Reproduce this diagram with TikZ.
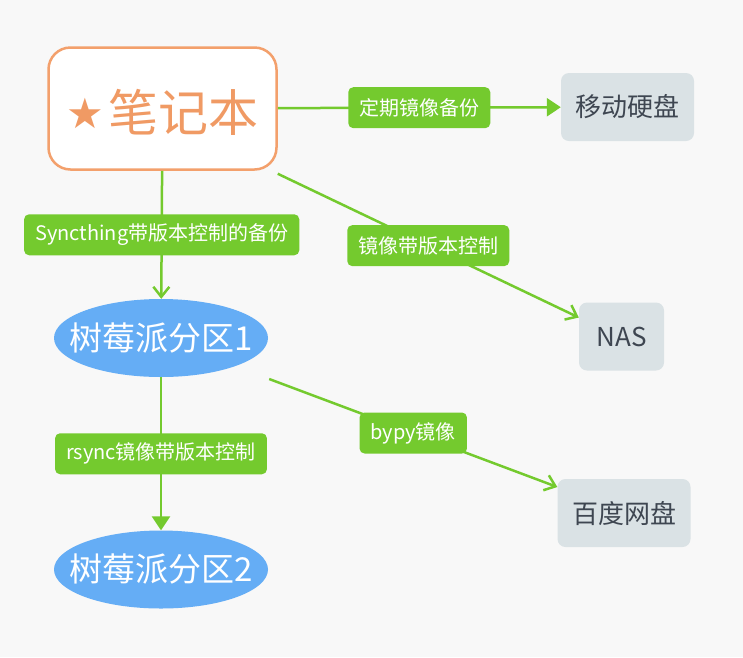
\documentclass[tikz,border=0pt]{standalone}
\usepackage{fontspec}
\setmainfont{Noto Sans CJK SC}
\newfontfamily\symfont{DejaVu Sans}
\usetikzlibrary{arrows.meta,shapes.geometric}
\definecolor{bgcol}{HTML}{F8F8F8}
\definecolor{nbline}{HTML}{F3A06C}
\definecolor{nbtext}{HTML}{F09A64}
\definecolor{tagcol}{HTML}{74CA2E}
\definecolor{diskcol}{HTML}{DAE2E5}
\definecolor{disktext}{HTML}{3E4651}
\definecolor{picol}{HTML}{65ADF5}

\begin{document}
\begin{tikzpicture}[x=1pt,y=-1pt]
\tikzstyle{main}=[draw=nbline,line width=2.5pt,fill=white,rounded corners=22pt,minimum width=228pt,minimum height=122pt,text=nbtext,font=\fontsize{50}{60}\selectfont];
\tikzstyle{disk}=[fill=diskcol,rounded corners=8pt,minimum width=85pt,minimum height=68pt,inner xsep=14.5pt,text=disktext,font=\fontsize{26}{30}\selectfont];
\tikzstyle{pi}=[ellipse,fill=picol,minimum width=214pt,minimum height=78pt,inner sep=0pt,text=white,font=\fontsize{33}{38}\selectfont];
\tikzstyle{tag}=[fill=tagcol,rounded corners=5pt,minimum height=41pt,inner xsep=11pt,text=white,font=\fontsize{20}{24}\selectfont];
\tikzstyle{link}=[draw=tagcol,line width=2.5pt];
\tikzstyle{solid link}=[link,-{Triangle[length=14pt,width=18pt]}];
\tikzstyle{open link}=[link,-{Straight Barb[length=10pt,width=16pt]}];
\useasboundingbox (0,0) rectangle (743,657);
\fill [bgcol] (0,0) rectangle (743,657);
% nodes
\node [main] (nb) at (162.5,108.5) {\raisebox{-4pt}[\height][\depth]{\raisebox{3pt}{\symfont\fontsize{42}{42}\selectfont ★}\hspace{5pt}笔记本}};
\node [disk] (hdd) at (627.5,107) {移动硬盘};
\node [disk] (nas) at (621.5,336.5) {NAS};
\node [disk] (pan) at (624,513) {百度网盘};
\node [pi] (rp1) at (161,338) {\makebox[0pt]{树莓派分区1}};
\node [pi] (rp2) at (161,569.5) {\makebox[0pt]{树莓派分区2}};
% connectors
\draw [solid link] (nb) -- node [tag] {定期镜像备份} (hdd);
\draw [open link] ([yshift=-3pt]nb.south east) -- node [tag] {镜像带版本控制} ([yshift=19pt]nas.west);
\draw [open link] (nb) -- node [tag] {Syncthing带版本控制的备份} (rp1);
\draw [solid link] (rp1) -- node [tag] {rsync镜像带版本控制} (rp2);
\draw [open link] ([xshift=1pt,yshift=-41pt]rp1.east) -- node [tag] {bypy镜像} ([yshift=26pt]pan.west);
\end{tikzpicture}
\end{document}
